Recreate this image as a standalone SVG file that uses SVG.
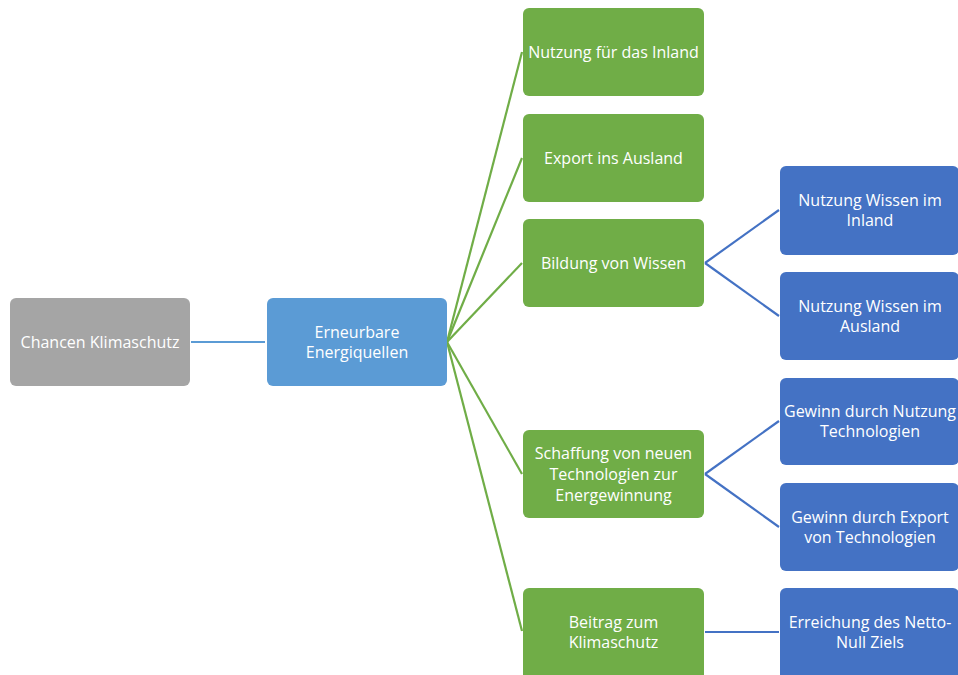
<svg xmlns="http://www.w3.org/2000/svg" width="958" height="675" viewBox="0 0 958 675">
<style>
.n rect{rx:6;ry:6}
.g rect{fill:#A5A5A5}
.m rect{fill:#5B9BD5}
.gr rect{fill:#70AD47}
.b rect{fill:#4472C4}
text{font-family:"Open Sans","Liberation Sans",sans-serif;font-size:16px;fill:#fff;text-anchor:middle;dominant-baseline:central}
#connectors line{stroke-width:2.2;fill:none}
</style>
<rect width="958" height="675" fill="#fff"/>
<g id="connectors">
<line x1="191" y1="342" x2="265" y2="342" stroke="#5B9BD5"/>
<line x1="447" y1="342" x2="522" y2="52" stroke="#70AD47"/>
<line x1="447" y1="342" x2="522" y2="158" stroke="#70AD47"/>
<line x1="447" y1="342" x2="522" y2="263" stroke="#70AD47"/>
<line x1="447" y1="342" x2="522" y2="474" stroke="#70AD47"/>
<line x1="447" y1="342" x2="522" y2="631" stroke="#70AD47"/>
<line x1="705" y1="263" x2="779" y2="210" stroke="#4472C4"/>
<line x1="705" y1="263" x2="779" y2="316" stroke="#4472C4"/>
<line x1="705" y1="474" x2="779" y2="421" stroke="#4472C4"/>
<line x1="705" y1="474" x2="779" y2="527" stroke="#4472C4"/>
<line x1="705" y1="632" x2="779" y2="632" stroke="#4472C4"/>
</g>
<g id="chancen" class="n g"><rect x="10" y="298" width="180" height="88"/><text x="100" y="342">Chancen Klimaschutz</text></g>
<g id="erneuerbare" class="n m"><rect x="267" y="298" width="180" height="88"/><text x="357" y="332">Erneurbare</text><text x="357" y="352">Energiquellen</text></g>
<g id="inland" class="n gr"><rect x="523" y="8" width="181" height="88"/><text x="613.5" y="52">Nutzung für das Inland</text></g>
<g id="export" class="n gr"><rect x="523" y="114" width="181" height="88"/><text x="613.5" y="158">Export ins Ausland</text></g>
<g id="bildung" class="n gr"><rect x="523" y="219" width="181" height="88"/><text x="613.5" y="263">Bildung von Wissen</text></g>
<g id="schaffung" class="n gr"><rect x="523" y="430" width="181" height="88"/><text x="613.5" y="453">Schaffung von neuen</text><text x="613.5" y="474">Technologien zur</text><text x="613.5" y="495">Energewinnung</text></g>
<g id="beitrag" class="n gr"><rect x="523" y="588" width="181" height="92"/><text x="613.5" y="622">Beitrag zum</text><text x="613.5" y="642">Klimaschutz</text></g>
<g id="wissen-inland" class="n b"><rect x="780" y="166" width="179" height="89"/><text x="870" y="200">Nutzung Wissen im</text><text x="870" y="220">Inland</text></g>
<g id="wissen-ausland" class="n b"><rect x="780" y="272" width="179" height="88"/><text x="870" y="306">Nutzung Wissen im</text><text x="870" y="326">Ausland</text></g>
<g id="gewinn-nutzung" class="n b"><rect x="780" y="378" width="179" height="87"/><text x="870" y="411">Gewinn durch Nutzung</text><text x="870" y="431">Technologien</text></g>
<g id="gewinn-export" class="n b"><rect x="780" y="483" width="179" height="88"/><text x="870" y="517">Gewinn durch Export</text><text x="870" y="537">von Technologien</text></g>
<g id="netto-null" class="n b"><rect x="780" y="588" width="179" height="92"/><text x="870" y="622">Erreichung des Netto-</text><text x="870" y="642">Null Ziels</text></g>
</svg>
